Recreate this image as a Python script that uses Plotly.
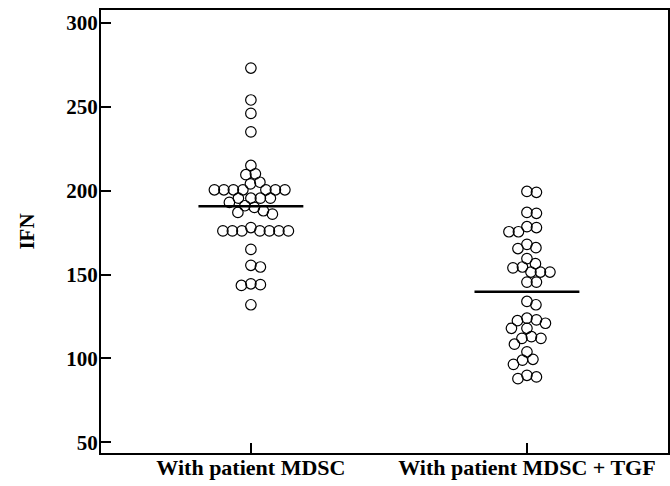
import numpy as np
import plotly.graph_objects as go

categories = ["With patient MDSC", "With patient MDSC + TGF"]

mdsc = [273, 254, 246, 235, 215, 210, 209.5, 205, 204,
        200.5, 200.5, 200.5, 200.5, 200.5, 200.5, 200.5,
        195.5, 195.5, 195.5, 195.5,
        193, 191, 190, 188, 187, 186,
        178, 176, 176, 176, 176, 176, 176, 176,
        165, 155.5, 154.5, 144.5, 144, 143.5, 132]

mdsc_tgf = [199.5, 199, 187, 186.5, 178.5, 178, 175.5, 175.5,
            168, 166, 165.5, 159.5, 156.5, 154.5, 154, 151.5, 151.5, 151.5,
            145.5, 145.5,
            134, 132, 124, 123, 122.5, 121, 118, 118,
            113, 112, 112, 108.5, 104, 99.5, 99, 96.5,
            90, 89, 88]

groups = [mdsc, mdsc_tgf]

Y_RANGE = [43.7, 307.6]
X_RANGE = [-0.543, 1.511]
PLOT_W = 567.0
PLOT_H = 443.0
px_per_y = PLOT_H / (Y_RANGE[1] - Y_RANGE[0])
px_per_x = PLOT_W / (X_RANGE[1] - X_RANGE[0])
DIAM = 9.5


def swarm_offsets(vals):
    placed = []
    offs = [0.0]
    for k in range(1, 300):
        offs += [k * 0.5, -k * 0.5]
    result = {}
    order = sorted(range(len(vals)), key=lambda i: -vals[i])
    for i in order:
        yp = vals[i] * px_per_y
        for o in offs:
            if all((o - px) ** 2 + (yp - py) ** 2 >= DIAM ** 2 for px, py in placed):
                placed.append((o, yp))
                result[i] = o
                break
    return [result[i] / px_per_x for i in range(len(vals))]


fig = go.Figure()
for gi, vals in enumerate(groups):
    offs = swarm_offsets(vals)
    fig.add_trace(go.Scatter(
        x=[gi + o for o in offs], y=vals, mode="markers",
        marker=dict(symbol="circle-open", size=10.5, color="black",
                    line=dict(width=1.2, color="black")),
        showlegend=False, hoverinfo="y"))
    m = float(np.mean(vals))
    fig.add_trace(go.Scatter(
        x=[gi - 0.19, gi + 0.19], y=[m, m], mode="lines",
        line=dict(color="black", width=2.5), showlegend=False))

tick_font = dict(family="Liberation Serif", size=21, color="black")
cat_font = dict(family="Liberation Serif", size=22, color="black")

fig.update_layout(
    width=670, height=486,
    margin=dict(l=101, r=2, t=10, b=33),
    paper_bgcolor="white", plot_bgcolor="white",
    font=tick_font,
)
fig.update_xaxes(
    range=X_RANGE, tickvals=[0, 1], ticktext=[f"<b>{c}</b>" for c in categories],
    showgrid=False, zeroline=False, showline=True, linewidth=2, linecolor="black",
    mirror=True, ticks="inside", ticklen=10, tickwidth=2, tickcolor="black",
    tickfont=cat_font, ticklabelstandoff=-6, automargin=False,
)
fig.update_yaxes(
    range=Y_RANGE, tickvals=[50, 100, 150, 200, 250, 300],
    ticktext=[f"<b>{v}</b>" for v in [50, 100, 150, 200, 250, 300]],
    showgrid=False, zeroline=False, showline=True, linewidth=2, linecolor="black",
    mirror=True, ticks="inside", ticklen=10, tickwidth=2, tickcolor="black",
    tickfont=tick_font, ticklabelstandoff=-3, automargin=False,
    title=dict(text="<b>IFN</b>", font=dict(family="Liberation Serif", size=21, color="black"),
               standoff=26),
)

fig.write_html("out.html")
